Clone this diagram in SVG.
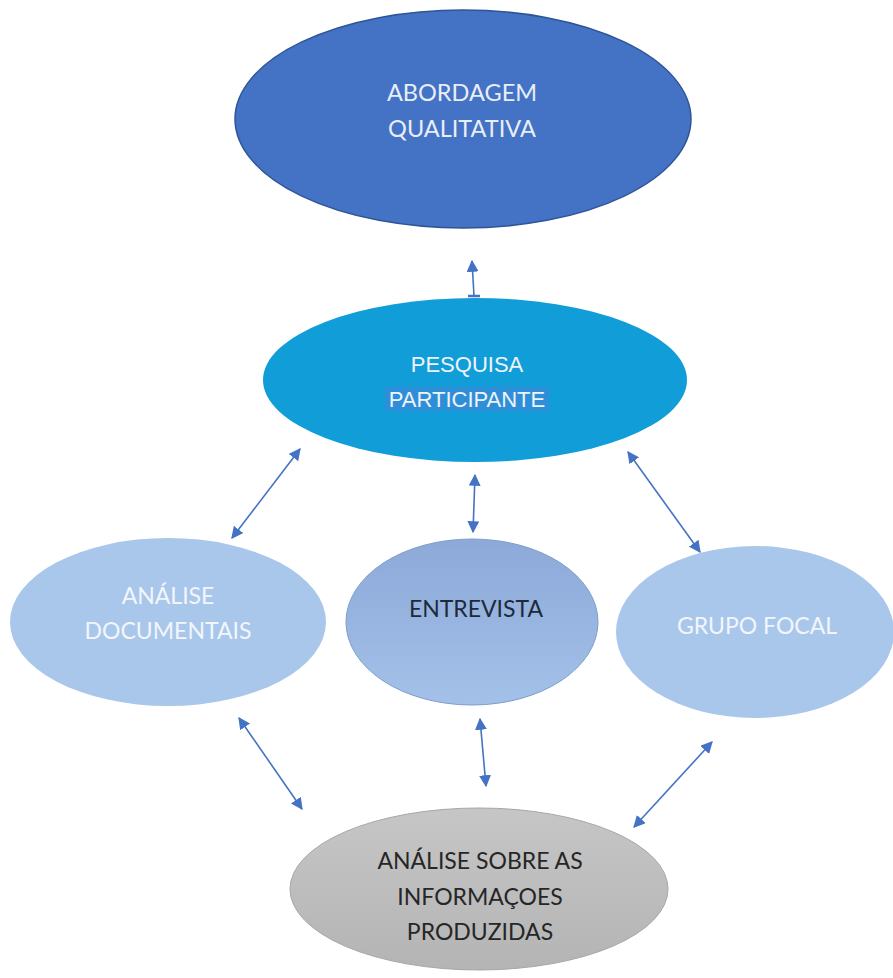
<svg xmlns="http://www.w3.org/2000/svg" width="893" height="978" viewBox="0 0 893 978">
<defs>
<style>
.t{font-family:Lato,"Open Sans","Liberation Sans",sans-serif;text-anchor:middle}
.a{font-family:"Liberation Sans",Arial,sans-serif;text-anchor:middle}
.c{stroke:#4472C4;stroke-width:1.6;fill:none}
</style>
<marker id="ah" viewBox="0 0 10 10" refX="9" refY="5" markerWidth="12" markerHeight="12" markerUnits="userSpaceOnUse" orient="auto-start-reverse">
<path d="M0,0 L10,5 L0,10 z" fill="#4472C4"/>
</marker>
<linearGradient id="gE" x1="0" y1="0" x2="0" y2="1">
<stop offset="0" stop-color="#8CA9D9"/>
<stop offset="1" stop-color="#A3C1E8"/>
</linearGradient>
<linearGradient id="gG" x1="0" y1="0" x2="0" y2="1">
<stop offset="0" stop-color="#C6C6C6"/>
<stop offset="1" stop-color="#B4B4B4"/>
</linearGradient>
</defs>
<rect width="893" height="978" fill="#ffffff"/>
<g id="connectors">
<line class="c" x1="474" y1="296" x2="472" y2="261" marker-end="url(#ah)"/>
<line x1="468" y1="296" x2="480" y2="296" stroke="#4472C4" stroke-width="2.5"/>
<line class="c" x1="300" y1="449" x2="232" y2="538" marker-start="url(#ah)" marker-end="url(#ah)"/>
<line class="c" x1="475" y1="475" x2="473" y2="532" marker-start="url(#ah)" marker-end="url(#ah)"/>
<line class="c" x1="628" y1="452" x2="700" y2="552" marker-start="url(#ah)" marker-end="url(#ah)"/>
<line class="c" x1="239" y1="718" x2="302" y2="809" marker-start="url(#ah)" marker-end="url(#ah)"/>
<line class="c" x1="480" y1="719" x2="486" y2="786" marker-start="url(#ah)" marker-end="url(#ah)"/>
<line class="c" x1="712" y1="742" x2="634" y2="827" marker-start="url(#ah)" marker-end="url(#ah)"/>
</g>
<g id="abordagem">
<ellipse cx="463" cy="119" rx="228" ry="109" fill="#4472C4" stroke="#2F5597" stroke-width="1.5"/>
<text class="t" x="462" y="101" font-size="23.5" fill="#E8EEF8">ABORDAGEM</text>
<text class="t" x="462" y="137" font-size="23.5" fill="#E8EEF8">QUALITATIVA</text>
</g>
<g id="pesquisa">
<ellipse cx="475" cy="380" rx="212" ry="82" fill="#119DD8"/>
<rect x="385" y="387" width="164" height="24" fill="#2E8FD8"/>
<text class="a" x="467" y="372" font-size="22" fill="#EEF4FA">PESQUISA</text>
<text class="a" x="467" y="407" font-size="22" fill="#EEF4FA">PARTICIPANTE</text>
</g>
<g id="analise-doc">
<ellipse cx="168" cy="622" rx="158" ry="84" fill="#A9C7EB"/>
<text class="t" x="168" y="604" font-size="23" fill="#F2F6FC">ANÁLISE</text>
<text class="t" x="168" y="639" font-size="23" fill="#F2F6FC">DOCUMENTAIS</text>
</g>
<g id="entrevista">
<ellipse cx="472" cy="622" rx="126" ry="83" fill="url(#gE)" stroke="#7F9CCB" stroke-width="1"/>
<text class="t" x="476" y="617" font-size="23" fill="#1E2A3A">ENTREVISTA</text>
</g>
<g id="grupo-focal">
<ellipse cx="755" cy="632" rx="139" ry="86" fill="#A9C7EB"/>
<text class="t" x="757" y="634" font-size="23" fill="#F2F6FC">GRUPO FOCAL</text>
</g>
<g id="analise-info">
<ellipse cx="479" cy="889" rx="189" ry="81" fill="url(#gG)" stroke="#A6A6A6" stroke-width="1"/>
<text class="t" x="480" y="869" font-size="23" fill="#262626">ANÁLISE SOBRE AS</text>
<text class="t" x="480" y="905" font-size="23" fill="#262626">INFORMAÇOES</text>
<text class="t" x="480" y="940" font-size="23" fill="#262626">PRODUZIDAS</text>
</g>
</svg>
